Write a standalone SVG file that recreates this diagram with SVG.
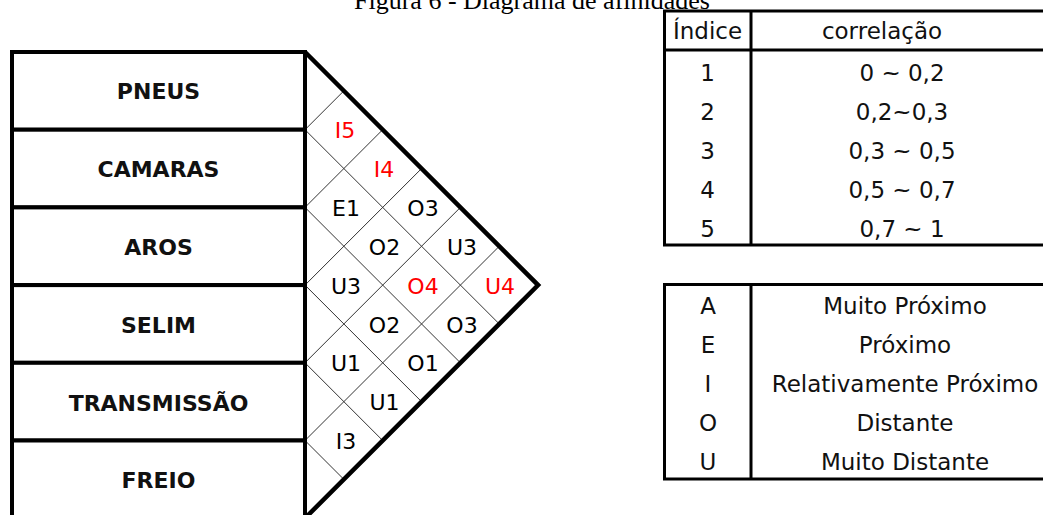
<svg xmlns="http://www.w3.org/2000/svg" width="1043" height="515" viewBox="0 0 1043 515">
<style>
.box{fill:#fff;stroke:#000;stroke-width:4}
.row{font-family:"DejaVu Sans",Verdana,sans-serif;font-weight:bold;font-size:22px;fill:#111;text-anchor:middle}
.cell{font-family:"DejaVu Sans",Verdana,sans-serif;font-size:22px;fill:#000;text-anchor:middle}
.red{fill:#ff0000}
.grid line{stroke:#333;stroke-width:1}
.tbl{fill:none;stroke:#000;stroke-width:3}
.tt{font-family:"DejaVu Sans",Verdana,sans-serif;font-size:23px;fill:#111;text-anchor:middle}
.title{font-family:"Liberation Serif","Times New Roman",serif;font-size:26px;fill:#000;text-anchor:middle}
</style>
<rect width="1043" height="515" fill="#fff"/>
<text class="title" x="532" y="9">Figura 6 - Diagrama de afinidades</text>

<g id="connectors" class="grid">
<line x1="305" y1="129.7" x2="343.85" y2="90.85"/>
<line x1="305" y1="207.4" x2="382.7" y2="129.7"/>
<line x1="305" y1="285.1" x2="421.55" y2="168.55"/>
<line x1="305" y1="362.8" x2="460.4" y2="207.4"/>
<line x1="305" y1="440.5" x2="499.25" y2="246.25"/>
<line x1="305" y1="129.7" x2="499.25" y2="323.95"/>
<line x1="305" y1="207.4" x2="460.4" y2="362.8"/>
<line x1="305" y1="285.1" x2="421.55" y2="401.65"/>
<line x1="305" y1="362.8" x2="382.7" y2="440.5"/>
<line x1="305" y1="440.5" x2="343.85" y2="479.35"/>
</g>

<g id="triangle">
<polyline points="305,52 538.1,285.1 305,518.2" fill="none" stroke="#000" stroke-width="4.5" stroke-linejoin="miter" stroke-miterlimit="10"/>
</g>

<g id="n-pneus"><rect class="box" x="12" y="52" width="293" height="77.7"/><text class="row" x="158.5" y="99">PNEUS</text></g>
<g id="n-camaras"><rect class="box" x="12" y="129.7" width="293" height="77.7"/><text class="row" x="158.5" y="177">CAMARAS</text></g>
<g id="n-aros"><rect class="box" x="12" y="207.4" width="293" height="77.7"/><text class="row" x="158.5" y="254.5">AROS</text></g>
<g id="n-selim"><rect class="box" x="12" y="285.1" width="293" height="77.7"/><text class="row" x="158.5" y="332.5">SELIM</text></g>
<g id="n-transmissao"><rect class="box" x="12" y="362.8" width="293" height="77.7"/><text class="row" x="158.5" y="410.5">TRANSMISSÃO</text></g>
<g id="n-freio"><rect class="box" x="12" y="440.5" width="293" height="77.7"/><text class="row" x="158.5" y="488">FREIO</text></g>

<g id="cells">
<text class="cell red" x="345" y="138">I5</text>
<text class="cell red" x="384" y="177">I4</text>
<text class="cell" x="346" y="216">E1</text>
<text class="cell" x="423" y="216">O3</text>
<text class="cell" x="384.5" y="255">O2</text>
<text class="cell" x="462" y="255">U3</text>
<text class="cell" x="346" y="293.5">U3</text>
<text class="cell red" x="423" y="293.5">O4</text>
<text class="cell red" x="500" y="293.5">U4</text>
<text class="cell" x="384.5" y="332.5">O2</text>
<text class="cell" x="462" y="332.5">O3</text>
<text class="cell" x="346" y="371">U1</text>
<text class="cell" x="423" y="371">O1</text>
<text class="cell" x="384.5" y="410">U1</text>
<text class="cell" x="346" y="449">I3</text>
</g>

<g id="table-indice">
<rect class="tbl" x="664.5" y="11" width="390" height="234"/>
<line class="tbl" x1="664.5" y1="50" x2="1054" y2="50"/>
<line class="tbl" x1="751" y1="11" x2="751" y2="245"/>
<text class="tt" x="707.5" y="39">Índice</text>
<text class="tt" x="882" y="39">correlação</text>
<text class="tt" x="707.5" y="80.5">1</text><text class="tt" x="902" y="80.5">0 ~ 0,2</text>
<text class="tt" x="707.5" y="119.5">2</text><text class="tt" x="902" y="119.5">0,2~0,3</text>
<text class="tt" x="707.5" y="158.5">3</text><text class="tt" x="902" y="158.5">0,3 ~ 0,5</text>
<text class="tt" x="707.5" y="197.5">4</text><text class="tt" x="902" y="197.5">0,5 ~ 0,7</text>
<text class="tt" x="707.5" y="236.5">5</text><text class="tt" x="902" y="236.5">0,7 ~ 1</text>
</g>

<g id="table-legenda">
<rect class="tbl" x="664.5" y="284.5" width="390" height="194.5"/>
<line class="tbl" x1="751" y1="284.5" x2="751" y2="479"/>
<text class="tt" x="708" y="314">A</text><text class="tt" x="905" y="314">Muito Próximo</text>
<text class="tt" x="708" y="353">E</text><text class="tt" x="905" y="353">Próximo</text>
<text class="tt" x="708" y="392">I</text><text class="tt" x="905" y="392">Relativamente Próximo</text>
<text class="tt" x="708" y="431">O</text><text class="tt" x="905" y="431">Distante</text>
<text class="tt" x="708" y="470">U</text><text class="tt" x="905" y="470">Muito Distante</text>
</g>
</svg>
